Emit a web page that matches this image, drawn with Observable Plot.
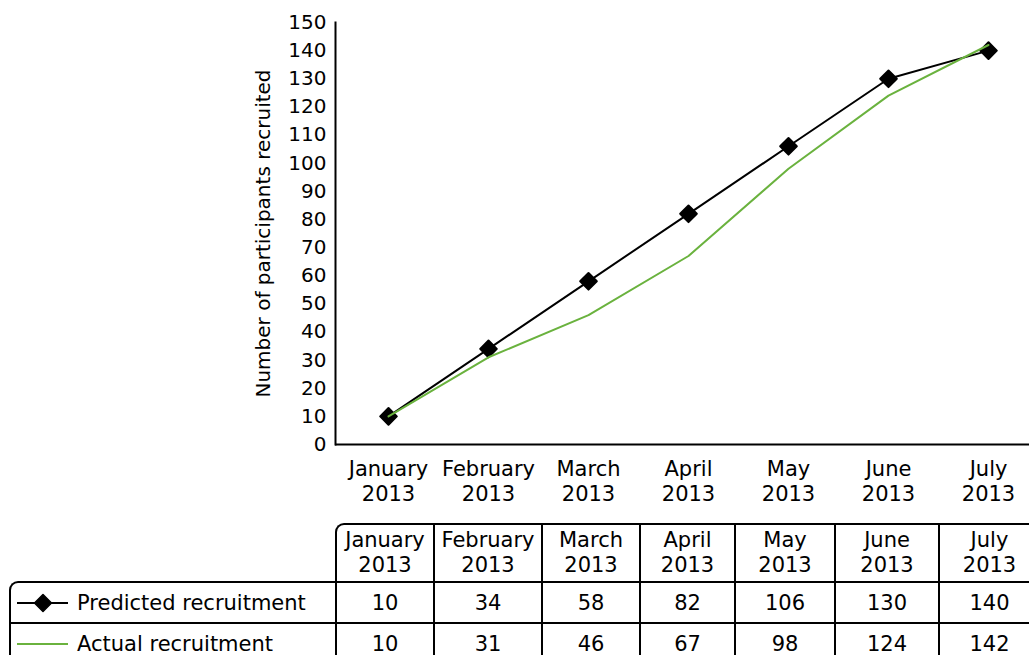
<!DOCTYPE html>
<html><head><meta charset="utf-8">
<script src="https://cdn.jsdelivr.net/npm/d3@7"></script>
<script src="https://cdn.jsdelivr.net/npm/@observablehq/plot@0.6"></script>
<style>
body{margin:0;overflow:hidden;background:#fff;font-family:"DejaVu Sans",sans-serif;}
#wrap{position:relative;width:1029px;height:655px;overflow:hidden;}
#wrap > svg{display:block;max-width:none !important;width:1045px !important;height:523px !important;}
table{position:absolute;left:9px;top:523px;border-collapse:separate;border-spacing:0;font-size:21px;table-layout:fixed;color:#000;width:1030px;}
td{padding:0;text-align:center;box-sizing:border-box;}
tr.head td{height:58px;line-height:25px;}
tr.data td{height:41px;line-height:22px;border-top:2px solid #000;}
td.m{border-left:2px solid #000;}
tr.head td.m{border-top:2px solid #000;}
tr.head td.m.first{border-top-left-radius:9px;}
td.leg{border-left:2px solid #000;text-align:left;}
tr.first-data td.leg{border-top-left-radius:9px;}
.legin{display:flex;align-items:center;white-space:nowrap;}
.legin svg{margin-left:6px;margin-right:8px;flex:none;}
</style>
</head><body>
<div id="wrap"></div>
<script>
const months = ["January 2013","February 2013","March 2013","April 2013","May 2013","June 2013","July 2013"];
const predicted = [10,34,58,82,106,130,140];
const actual = [10,31,46,67,98,124,142];
const yTicks = [0,10,20,30,40,50,60,70,80,90,100,110,120,130,140,150];
const seriesNames = ["Predicted recruitment","Actual recruitment"];
const yLabel = "Number of participants recruited";

const green = "#6ab23e";
const colWidths = [326,98,108,98,95,100,104,101];

const rows = months.map((m,i)=>({month:m, predicted:predicted[i], actual:actual[i]}));

const chart = Plot.plot({
  width:1045, height:523, marginTop:22, marginBottom:79, marginLeft:335, marginRight:4,
  style:{fontFamily:'"DejaVu Sans", sans-serif', fontSize:"21px", color:"#000", background:"#fff"},
  x:{type:"point", domain:months, padding:0.5},
  y:{domain:[0,150]},
  marks:[
    Plot.axisY({ticks:yTicks, tickSize:0, tickPadding:9, fontSize:20, label:yLabel, labelAnchor:"center", labelArrow:"none", labelOffset:80}),
    Plot.axisX({tickSize:0, tickPadding:14, tickFormat:m=>m.replace(" ","\n"), lineHeight:1.19, label:null}),
    Plot.frame({anchor:"left", strokeWidth:2, stroke:"#000"}),
    Plot.ruleY([0], {strokeWidth:2, stroke:"#000"}),
    Plot.line(rows, {x:"month", y:"predicted", stroke:"#000", strokeWidth:2}),
    Plot.dot(rows, {x:"month", y:"predicted", symbol:"diamond2", r:7.5, fill:"#000", stroke:"#000", strokeWidth:2, strokeLinejoin:"round"}),
    Plot.line(rows, {x:"month", y:"actual", stroke:green, strokeWidth:2})
  ]
});
const wrap = document.getElementById("wrap");
wrap.appendChild(chart);

// data table below the chart
const table = document.createElement("table");
let html = '<colgroup>' + colWidths.map(w=>'<col style="width:'+w+'px">').join('') + '</colgroup>';
html += '<tr class="head"><td></td>';
months.forEach((m,i)=>{
  const [mo,yr] = m.split(" ");
  html += '<td class="m'+(i===0?' first':'')+'">'+mo+'<br>'+yr+'</td>';
});
html += '</tr>';
const seriesData = [predicted, actual];
seriesNames.forEach((name,s)=>{
  const sample = s===0
    ? '<svg width="52" height="20"><line x1="0" y1="10" x2="51" y2="10" stroke="#000" stroke-width="2"/><path d="M26 1.5 L34.5 10 L26 18.5 L17.5 10 Z" fill="#000" stroke="#000" stroke-width="1.5" stroke-linejoin="round"/></svg>'
    : '<svg width="52" height="20"><line x1="0" y1="10" x2="51" y2="10" stroke="'+green+'" stroke-width="2"/></svg>';
  html += '<tr class="data'+(s===0?' first-data':'')+'"><td class="leg"><div class="legin">'+sample+'<span>'+name+'</span></div></td>';
  seriesData[s].forEach(v=>{ html += '<td class="m">'+v+'</td>'; });
  html += '</tr>';
});
table.innerHTML = html;
wrap.appendChild(table);
</script>
</body></html>
